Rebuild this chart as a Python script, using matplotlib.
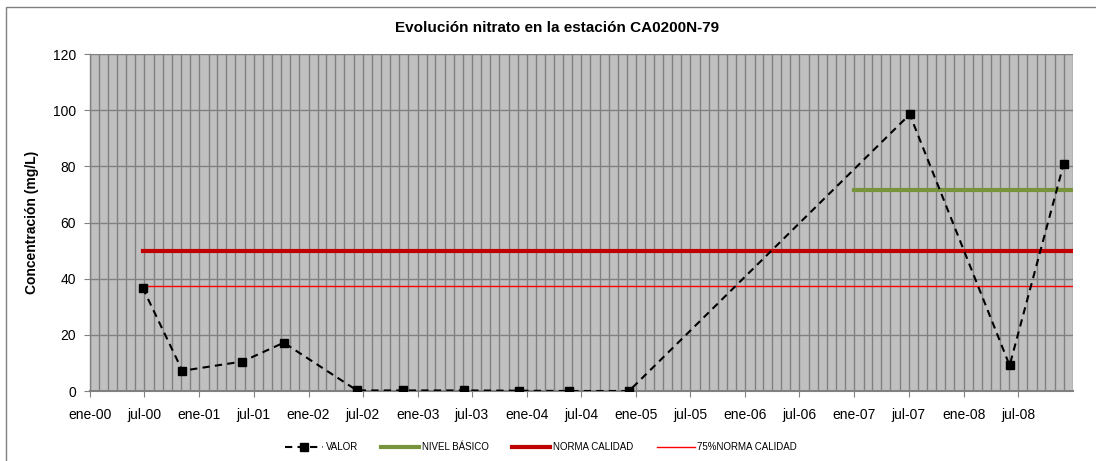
import matplotlib
matplotlib.use("Agg")
import matplotlib.pyplot as plt
import matplotlib.dates as mdates
import pandas as pd
from matplotlib.patches import Rectangle

plt.rcParams['font.family'] = ['Liberation Sans', 'DejaVu Sans']

# Data
fechas = ["2000-06-25", "2000-11-05", "2001-05-25", "2001-10-10", "2002-06-12",
          "2002-11-12", "2003-06-05", "2003-12-05", "2004-05-20", "2004-12-08",
          "2007-07-05", "2008-06-03", "2008-12-01"]
valor = [36.8, 7.2, 10.5, 17.2, 0.2, 0.2, 0.2, 0.1, 0.0, 0.0, 98.5, 9.1, 80.9]

nivel_basico_fechas = ["2007-01-01", "2009-01-01"]
nivel_basico = [71.6, 71.6]
norma_fechas = ["2000-06-25", "2009-01-01"]
norma = [50, 50]
norma75 = [37.5, 37.5]

tick_labels = ["ene-00", "jul-00", "ene-01", "jul-01", "ene-02", "jul-02", "ene-03",
               "jul-03", "ene-04", "jul-04", "ene-05", "jul-05", "ene-06", "jul-06",
               "ene-07", "jul-07", "ene-08", "jul-08"]

x = pd.to_datetime(fechas)
fig = plt.figure(figsize=(10.96, 4.61), dpi=100)
ax = fig.add_axes([90/1096, 1-391/461, (1073-90)/1096, (391-54)/461])
ax.set_facecolor('#C0C0C0')

ax.plot(x, valor, color='black', linestyle=(0, (3.5, 2.5)), linewidth=1.5,
        marker='s', markersize=6, label='VALOR', zorder=5)
ax.plot(pd.to_datetime(nivel_basico_fechas), nivel_basico, color='#77933C', linewidth=3,
        label='NIVEL BÁSICO', zorder=4)
ax.plot(pd.to_datetime(norma_fechas), norma, color='#C00000', linewidth=3,
        label='NORMA CALIDAD', zorder=4)
ax.plot(pd.to_datetime(norma_fechas), norma75, color='#FF0000', linewidth=1,
        label='75%NORMA CALIDAD', zorder=4)

ax.set_xlim(pd.Timestamp("2000-01-01"), pd.Timestamp("2009-01-01"))
ax.set_ylim(0, 120)
ax.set_yticks(range(0, 121, 20))
ticks = pd.date_range("2000-01-01", periods=len(tick_labels), freq="6MS")
ax.set_xticks(ticks)
ax.set_xticklabels(tick_labels)
ax.xaxis.set_minor_locator(mdates.MonthLocator())
ax.grid(which='both', axis='x', color='#808080', linewidth=1)
ax.grid(which='major', axis='y', color='#808080', linewidth=1)
ax.set_axisbelow(True)

for s in ['top', 'right']:
    ax.spines[s].set_visible(False)
ax.spines['bottom'].set_color('#808080')
ax.spines['bottom'].set_linewidth(1.5)
ax.spines['left'].set_color('#808080')
ax.spines['left'].set_linewidth(1)
ax.tick_params(axis='both', which='major', direction='out', length=4, color='#808080',
               labelsize=10)
ax.tick_params(axis='x', pad=8)
ax.tick_params(axis='y', pad=6)
ax.tick_params(axis='x', which='minor', length=0)

fig.text(32/1096, 1-222/461, 'Concentración (mg/L)', rotation=90,
         ha='center', va='center', fontsize=10, fontweight='bold')
fig.text(557/1096, 1-28/461, 'Evolución nitrato en la estación CA0200N-79',
         ha='center', va='center', fontsize=11, fontweight='bold')

leg = fig.legend(loc='center', bbox_to_anchor=(541/1096, 1-447/461), ncol=4,
                 frameon=False, fontsize=7, handlelength=3.9, columnspacing=2.4,
                 handletextpad=0.3)

fig.patches.append(Rectangle((6/1096, -0.1), 1.2, 1.1 - 7/461, transform=fig.transFigure,
                             fill=False, edgecolor='#808080', linewidth=1))

fig.savefig('out.png', dpi=100)
